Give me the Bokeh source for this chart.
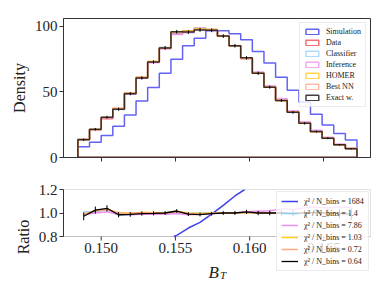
import numpy as np
from bokeh.plotting import figure
from bokeh.layouts import column
from bokeh.models import (Range1d, Legend, LegendItem, Label, FixedTicker,
                          PrintfTickFormatter, BoxAnnotation)
from bokeh.embed import file_html
from bokeh.resources import INLINE

# ---------------- data ----------------
bin_lo, bin_hi, n_bins = 0.14843, 0.16723, 24

data_hist = [13.9, 21.0, 29.5, 37.4, 49.2, 60.9, 73.0, 83.5, 94.2, 96.5, 98.5, 97.5,
             92.5, 85.2, 75.2, 64.2, 53.6, 43.5, 34.6, 26.0, 19.7, 14.7, 9.8, 6.8]
sim_hist = [8.1, 11.7, 16.7, 23.8, 32.3, 43.0, 53.3, 64.2, 74.8, 85.2, 90.9, 96.5,
            96.5, 94.2, 89.7, 80.8, 72.0, 61.1, 51.3, 42.2, 32.9, 24.8, 18.2, 13.4]
exact_err = [0.9, 1.0, 1.1, 1.2, 1.2, 1.3, 1.3, 1.4, 1.4, 1.4, 1.5, 1.4,
             1.4, 1.4, 1.3, 1.3, 1.2, 1.1, 1.0, 0.9, 0.8, 0.7, 0.6, 0.5]

ratio_sim = [0.58, 0.56, 0.57, 0.64, 0.66, 0.71, 0.73, 0.77, 0.81, 0.872, 0.92, 0.99,
             1.065, 1.145, 1.21, 1.27, 1.34, 1.40, 1.48, 1.62, 1.67, 1.69, 1.86, 1.97]
ratio_classifier = [1.01, 1.01, 1.03, 0.98, 0.985, 0.995, 1.0, 1.005, 1.005, 0.995, 1.0, 1.0,
                    1.0, 1.0, 1.005, 1.0, 1.0, 1.0, 0.99, 1.0, 1.0, 0.99, 1.0, 0.99]
ratio_inference = [0.99, 1.0, 1.01, 0.99, 0.985, 0.99, 0.99, 0.99, 0.995, 0.985, 0.99, 0.995,
                   1.0, 1.0, 1.01, 1.015, 1.02, 1.035, 1.03, 1.045, 1.05, 1.045, 1.05, 1.05]
ratio_homer = [0.99, 1.02, 1.035, 1.0, 0.995, 1.005, 1.005, 1.0, 1.015, 1.0, 0.995, 1.0,
               1.0, 1.0, 1.005, 1.0, 1.0, 1.0, 1.0, 1.005, 1.0, 1.0, 1.0, 0.995]
ratio_bestnn = [0.985, 1.02, 1.03, 1.0, 1.0, 1.005, 1.0, 1.0, 1.01, 0.995, 0.99, 0.995,
                1.0, 1.0, 1.005, 1.0, 1.0, 1.0, 0.995, 1.0, 1.0, 1.0, 1.0, 0.995]
ratio_exact = [0.972, 1.025, 1.04, 0.985, 0.988, 0.995, 0.997, 1.0, 1.017, 0.99, 0.987, 0.994,
               1.0, 1.0, 1.01, 1.0, 1.0, 1.0, 0.995, 1.0, 1.005, 1.0, 0.995, 0.99]
ratio_err = [0.034, 0.03, 0.026, 0.022, 0.02, 0.018, 0.017, 0.016, 0.016, 0.016, 0.016, 0.016,
             0.016, 0.017, 0.018, 0.019, 0.02, 0.022, 0.025, 0.028, 0.03, 0.035, 0.04, 0.05]

hist_labels = ["Simulation", "Data", "Classifier", "Inference", "HOMER", "Best NN", "Exact w."]
chi2_values = ["1684", "1.4", "7.86", "1.03", "0.72", "0.64"]
x_ticks = [0.150, 0.155, 0.160, 0.165]
x_tick_labels = ["0.150", "0.155", "0.160", "0.165"]
top_y_ticks = [0, 50, 100]
ratio_y_ticks = [0.8, 1.0, 1.2]

# ---------------- styles / geometry ----------------
FONT = "Liberation Serif"
TXT = "#222222"
AX = "#333333"
C_SIM, C_DATA, C_CLS, C_INF, C_HOM, C_BNN, C_EX = (
    "#1f1fee", "#ee1111", "#87cefa", "#ee82ee", "#ffc800", "#ffa07a", "#000000")

XR = (0.14746, 0.16814)
R_LO, R_HI = 0.8, 1.2          # visible ratio window
R_PX = 47                      # pixel height of the ratio window
K = (R_HI - R_LO) / R_PX       # ratio units per pixel
P2_FRAME_PX = 95               # ratio frame extended down over the x-axis area
R_BOTTOM = R_HI - P2_FRAME_PX * K

edges = np.linspace(bin_lo, bin_hi, n_bins + 1)
centers = 0.5 * (edges[:-1] + edges[1:])
data_arr = np.array(data_hist)


def step_outline(vals):
    xs = [edges[0]]
    ys = [0.0]
    for i, v in enumerate(vals):
        xs += [edges[i], edges[i + 1]]
        ys += [v, v]
    xs.append(edges[-1])
    ys.append(0.0)
    return xs, ys


def clip_polyline(xs, ys, lo, hi):
    """Clip a polyline to lo <= y <= hi, returning multi_line pieces."""
    out_x, out_y = [], []
    cur_x, cur_y = None, None
    for i in range(len(xs) - 1):
        x0, y0, x1, y1 = xs[i], ys[i], xs[i + 1], ys[i + 1]
        dy = y1 - y0
        if dy == 0:
            if y0 < lo or y0 > hi:
                cur_x = None
                continue
            t0, t1 = 0.0, 1.0
        else:
            ta, tb = (lo - y0) / dy, (hi - y0) / dy
            t0, t1 = max(0.0, min(ta, tb)), min(1.0, max(ta, tb))
            if t0 > t1:
                cur_x = None
                continue
        px, py = x0 + t0 * (x1 - x0), y0 + t0 * dy
        qx, qy = x0 + t1 * (x1 - x0), y0 + t1 * dy
        if cur_x is not None and abs(cur_x[-1] - px) < 1e-12 and abs(cur_y[-1] - py) < 1e-12:
            cur_x.append(qx)
            cur_y.append(qy)
        else:
            cur_x, cur_y = [px, qx], [py, qy]
            out_x.append(cur_x)
            out_y.append(cur_y)
    return out_x, out_y


def base_style(p):
    p.xgrid.visible = False
    p.ygrid.visible = False
    p.background_fill_color = "white"
    p.border_fill_color = "white"


def style_axis(ax):
    ax.axis_line_color = AX
    ax.major_tick_line_color = AX
    ax.major_tick_in = 0
    ax.major_tick_out = 4
    ax.minor_tick_line_color = None
    ax.major_label_text_font = FONT
    ax.major_label_text_font_size = "15px"
    ax.major_label_text_color = TXT
    ax.major_label_standoff = 2
    ax.axis_label_text_font = FONT
    ax.axis_label_text_font_size = "16px"
    ax.axis_label_text_font_style = "normal"
    ax.axis_label_text_color = TXT
    ax.axis_label_standoff = 4


def style_legend(leg):
    leg.label_text_font = FONT
    leg.label_text_font_size = "8px"
    leg.label_text_color = TXT
    leg.label_standoff = 6
    leg.spacing = 2
    leg.padding = 4
    leg.border_line_color = "#d8d8d8"
    leg.background_fill_alpha = 0.8


# ---------------- top panel ----------------
P1_BOTTOM = 26
p1 = figure(width=380, height=18 + 139 + P1_BOTTOM, output_backend="svg", toolbar_location=None,
            x_range=Range1d(*XR), y_range=Range1d(0, 105.9),
            min_border_left=63, min_border_right=10, min_border_top=18,
            min_border_bottom=P1_BOTTOM)
base_style(p1)
p1.outline_line_color = AX
p1.outline_line_width = 1
style_axis(p1.xaxis[0])
style_axis(p1.yaxis[0])
p1.yaxis.ticker = FixedTicker(ticks=top_y_ticks)
p1.xaxis.ticker = FixedTicker(ticks=x_ticks)
p1.xaxis.major_label_overrides = {t: "" for t in x_ticks}
p1.yaxis.axis_label = "Density"

model_specs = [
    (hist_labels[0], np.array(sim_hist), C_SIM, 0.7),
    (hist_labels[1], data_arr, C_DATA, 0.6),
    (hist_labels[2], data_arr * np.array(ratio_classifier), C_CLS, 0.7),
    (hist_labels[3], data_arr * np.array(ratio_inference), C_INF, 0.7),
    (hist_labels[4], data_arr * np.array(ratio_homer), C_HOM, 0.7),
    (hist_labels[5], data_arr * np.array(ratio_bestnn), C_BNN, 0.7),
    (hist_labels[6], data_arr * np.array(ratio_exact), C_EX, 0.75),
]
items1 = []
for lab, vals, col, a in model_specs:
    xs, ys = step_outline(vals)
    r = p1.patch(xs, ys, fill_alpha=0, line_color=col, line_alpha=a, line_width=1.5)
    items1.append(LegendItem(label=lab, renderers=[r]))

exact_vals = data_arr * np.array(ratio_exact)
p1.segment(x0=centers, y0=exact_vals - np.array(exact_err), x1=centers,
           y1=exact_vals + np.array(exact_err), line_color="black", line_width=1)

leg1 = Legend(items=items1, location="top_right")
style_legend(leg1)
leg1.glyph_width = 16
leg1.glyph_height = 7
leg1.label_height = 9
leg1.margin = 4
p1.add_layout(leg1)

# ---------------- ratio panel ----------------
# frame extends below the ratio window so the legend can overlap the x-axis area
P2_TOP = 189 - (18 + 139 + P1_BOTTOM)
p2 = figure(width=380, height=P2_TOP + P2_FRAME_PX + 4, output_backend="svg",
            toolbar_location=None, x_range=p1.x_range, y_range=Range1d(R_BOTTOM, R_HI),
            min_border_left=63, min_border_right=10, min_border_top=P2_TOP, min_border_bottom=4)
base_style(p2)
p2.outline_line_color = None
p2.xaxis.visible = False
style_axis(p2.yaxis[0])
p2.yaxis.ticker = FixedTicker(ticks=ratio_y_ticks)
p2.yaxis.formatter = PrintfTickFormatter(format="%.1f")
p2.yaxis.bounds = (R_LO, R_HI)
p2.yaxis.axis_label = "Ratio"

# box of the ratio window
p2.add_layout(BoxAnnotation(left=XR[0], right=XR[1], bottom=R_LO, top=R_HI,
                            fill_alpha=0, line_color=AX, line_width=1, level="underlay"))

# x ticks and tick labels below the ratio window
p2.segment(x0=x_ticks, y0=[R_LO] * len(x_ticks), x1=x_ticks,
           y1=[R_LO - 4 * K] * len(x_ticks), line_color=AX, line_width=1)
p2.text(x=x_ticks, y=[R_LO - 6 * K] * len(x_ticks), text=x_tick_labels,
        text_font="Liberation Serif", text_font_size="15px", text_color=TXT,
        text_align="center", text_baseline="top")

ratio_specs = [
    (ratio_sim, C_SIM, 0.85, 1.5),
    (ratio_classifier, C_CLS, 0.9, 1.5),
    (ratio_inference, C_INF, 0.9, 1.5),
    (ratio_homer, C_HOM, 0.9, 1.5),
    (ratio_bestnn, C_BNN, 0.9, 1.5),
    (ratio_exact, C_EX, 1.0, 1.3),
]
items2 = []
for (vals, col, a, w), chi in zip(ratio_specs, chi2_values):
    mx, my = clip_polyline(list(centers), list(vals), R_LO, R_HI)
    r = p2.multi_line(mx, my, line_color=col, line_alpha=a, line_width=w)
    items2.append(LegendItem(label="\u03c7\u00b2 / N_bins = " + chi, renderers=[r]))

p2.segment(x0=centers, y0=np.array(ratio_exact) - np.array(ratio_err), x1=centers,
           y1=np.array(ratio_exact) + np.array(ratio_err), line_color="black", line_width=1)

leg2 = Legend(items=items2, location=(213, 13))
style_legend(leg2)
leg2.glyph_width = 17
leg2.glyph_height = 10
leg2.label_height = 10
leg2.margin = 0
p2.add_layout(leg2)

# x-axis label B_T (italic B with subscript T)
p2.add_layout(Label(x=0.15722, y=R_LO - 35.5 * K, text="B", text_font=FONT,
                    text_font_size="17px", text_font_style="italic", text_color=TXT,
                    text_baseline="alphabetic"))
p2.add_layout(Label(x=0.15800, y=R_LO - 38 * K, text="T", text_font=FONT,
                    text_font_size="11px", text_font_style="italic", text_color=TXT,
                    text_baseline="alphabetic"))

layout = column(p1, p2, spacing=0)
open("out.html", "w").write(file_html(layout, INLINE))
